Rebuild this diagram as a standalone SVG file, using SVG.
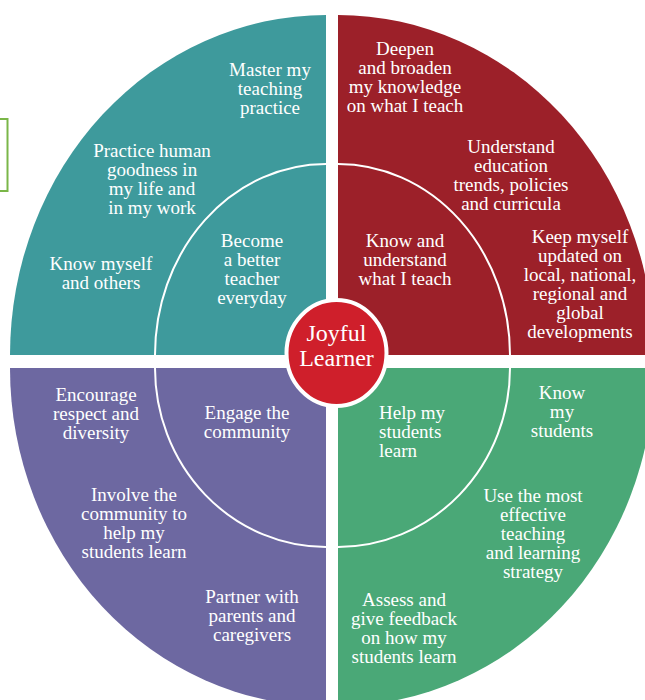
<svg xmlns="http://www.w3.org/2000/svg" width="645" height="700" viewBox="0 0 645 700">
<style>
.t{font-family:'Liberation Serif','Times New Roman','DejaVu Serif',serif;font-size:19px;fill:#ffffff;text-anchor:middle}
.tl{text-anchor:start}
.ring{fill:none;stroke:#ffffff;stroke-width:2}
.c{font-family:'Liberation Serif','Times New Roman','DejaVu Serif',serif;font-size:24px;fill:#ffffff;text-anchor:middle}
</style>
<rect x="0" y="0" width="645" height="700" fill="#ffffff"/>
<rect x="-2" y="119" width="9.5" height="72" fill="none" stroke="#7AB648" stroke-width="2"/>

<g id="quad-teal">
<path d="M326,355 L10,355 A316,340 0 0 1 326,15 Z" fill="#3E9A9C"/>
<path class="ring" d="M155,355 A171,191 0 0 1 326,164"/>
</g>
<g id="quad-red">
<path d="M338,355 L338,15 A316,340 0 0 1 654,355 Z" fill="#9C2029"/>
<path class="ring" d="M338,164 A172,191 0 0 1 510,355"/>
</g>
<g id="quad-purple">
<path d="M326,368 L10,368 A316,338 0 0 0 326,706 Z" fill="#6D68A1"/>
<path class="ring" d="M155,368 A171,179 0 0 0 326,547"/>
</g>
<g id="quad-green">
<path d="M338,368 L654,368 A316,338 0 0 1 338,706 Z" fill="#4AA877"/>
<path class="ring" d="M510,368 A172,179 0 0 1 338,547"/>
</g>

<g id="connectors"></g>

<g id="master">
<text class="t" x="270" y="76">Master my<tspan x="270" dy="19">teaching</tspan><tspan x="270" dy="19">practice</tspan></text>
</g>
<g id="goodness">
<text class="t" x="152" y="157">Practice human<tspan x="152" dy="19">goodness in</tspan><tspan x="152" dy="19">my life and</tspan><tspan x="152" dy="19">in my work</tspan></text>
</g>
<g id="know-myself">
<text class="t" x="101" y="270">Know myself<tspan x="101" dy="19">and others</tspan></text>
</g>
<g id="better-teacher">
<text class="t" x="252" y="247">Become<tspan x="252" dy="19">a better</tspan><tspan x="252" dy="19">teacher</tspan><tspan x="252" dy="19">everyday</tspan></text>
</g>

<g id="deepen">
<text class="t" x="405" y="55">Deepen<tspan x="405" dy="19">and broaden</tspan><tspan x="405" dy="19">my knowledge</tspan><tspan x="405" dy="19">on what I teach</tspan></text>
</g>
<g id="trends">
<text class="t" x="511" y="153">Understand<tspan x="511" dy="19">education</tspan><tspan x="511" dy="19">trends, policies</tspan><tspan x="511" dy="19">and curricula</tspan></text>
</g>
<g id="know-understand">
<text class="t" x="405" y="247">Know and<tspan x="405" dy="19">understand</tspan><tspan x="405" dy="19">what I teach</tspan></text>
</g>
<g id="updated">
<text class="t" x="580" y="243">Keep myself<tspan x="580" dy="19">updated on</tspan><tspan x="580" dy="19">local, national,</tspan><tspan x="580" dy="19">regional and</tspan><tspan x="580" dy="19">global</tspan><tspan x="580" dy="19">developments</tspan></text>
</g>

<g id="respect">
<text class="t" x="96" y="401">Encourage<tspan x="96" dy="19">respect and</tspan><tspan x="96" dy="19">diversity</tspan></text>
</g>
<g id="engage">
<text class="t" x="247" y="419">Engage the<tspan x="247" dy="19">community</tspan></text>
</g>
<g id="involve">
<text class="t" x="134" y="501">Involve the<tspan x="134" dy="19">community to</tspan><tspan x="134" dy="19">help my</tspan><tspan x="134" dy="19">students learn</tspan></text>
</g>
<g id="partner">
<text class="t" x="252" y="603">Partner with<tspan x="252" dy="19">parents and</tspan><tspan x="252" dy="19">caregivers</tspan></text>
</g>

<g id="help-learn">
<text class="t tl" x="379" y="419">Help my<tspan x="379" dy="19">students</tspan><tspan x="379" dy="19">learn</tspan></text>
</g>
<g id="know-students">
<text class="t" x="562" y="399">Know<tspan x="562" dy="19">my</tspan><tspan x="562" dy="19">students</tspan></text>
</g>
<g id="strategy">
<text class="t" x="533" y="502">Use the most<tspan x="533" dy="19">effective</tspan><tspan x="533" dy="19">teaching</tspan><tspan x="533" dy="19">and learning</tspan><tspan x="533" dy="19">strategy</tspan></text>
</g>
<g id="assess">
<text class="t" x="404" y="606">Assess and<tspan x="404" dy="19">give feedback</tspan><tspan x="404" dy="19">on how my</tspan><tspan x="404" dy="19">students learn</tspan></text>
</g>

<g id="joyful-learner">
<ellipse cx="336.5" cy="353" rx="50" ry="53" fill="#CF1F2B" stroke="#ffffff" stroke-width="4"/>
<text class="c" x="336.5" y="341">Joyful<tspan x="336.5" dy="25">Learner</tspan></text>
</g>
</svg>
